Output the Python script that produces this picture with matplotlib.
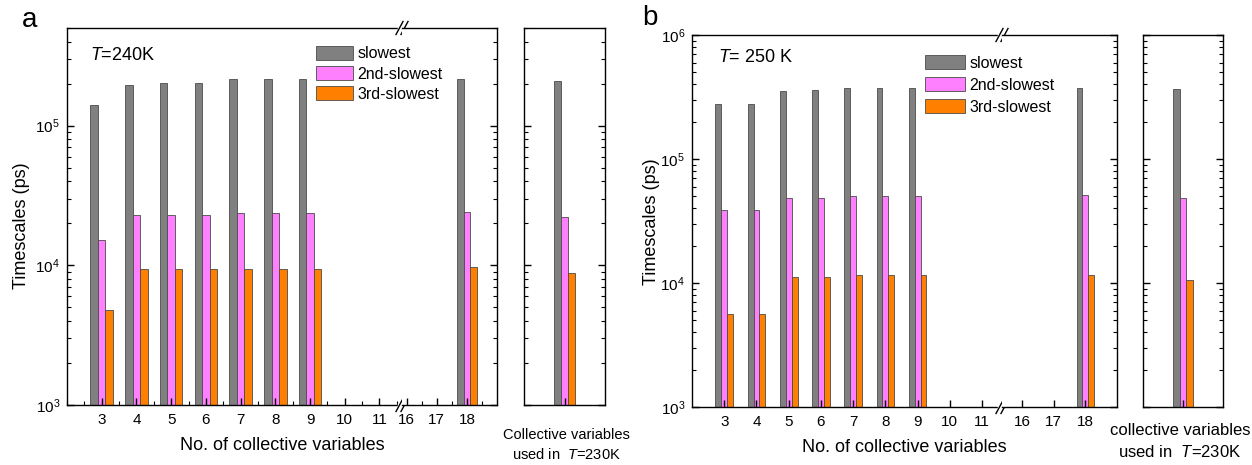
import numpy as np
import matplotlib
matplotlib.use('Agg')
import matplotlib.pyplot as plt
from matplotlib.ticker import MultipleLocator, NullFormatter, FixedLocator

plt.rcParams['font.family'] = ['Liberation Sans', 'DejaVu Sans']
plt.rcParams['mathtext.fontset'] = 'custom'
plt.rcParams['mathtext.rm'] = 'Liberation Sans'
plt.rcParams['mathtext.it'] = 'Liberation Sans:italic'
plt.rcParams['mathtext.bf'] = 'Liberation Sans:bold'
plt.rcParams['axes.linewidth'] = 1.0

# numero de variables colectivas
cv = [3, 4, 5, 6, 7, 8, 9, 18]
ticks_izq = [3, 4, 5, 6, 7, 8, 9, 10, 11]
ticks_der = [16, 17, 18]

# escalas de tiempo (ps) a T = 240 K
slowest_240 = [1.41e5, 1.97e5, 2.02e5, 2.02e5, 2.17e5, 2.17e5, 2.17e5, 2.17e5]
second_240 = [1.51e4, 2.28e4, 2.28e4, 2.28e4, 2.37e4, 2.37e4, 2.37e4, 2.40e4]
third_240 = [4.8e3, 9.4e3, 9.4e3, 9.4e3, 9.4e3, 9.4e3, 9.4e3, 9.8e3]

# escalas de tiempo (ps) a T = 250 K
slowest_250 = [2.76e5, 2.76e5, 3.56e5, 3.60e5, 3.76e5, 3.76e5, 3.76e5, 3.76e5]
second_250 = [3.88e4, 3.88e4, 4.84e4, 4.84e4, 5.06e4, 5.06e4, 5.06e4, 5.10e4]
third_250 = [5.6e3, 5.6e3, 1.12e4, 1.12e4, 1.15e4, 1.15e4, 1.15e4, 1.16e4]

# con las variables colectivas de T = 230 K
ref_240 = [2.08e5, 2.23e4, 8.84e3]
ref_250 = [3.65e5, 4.87e4, 1.06e4]

etiquetas = ['slowest', '2nd-slowest', '3rd-slowest']
colores = ['#808080', '#FF80FF', '#FF8000']
borde = '#4a4a4a'

W, H = 1252, 465
fig = plt.figure(figsize=(W / 100, H / 100), dpi=100)


def caja(x0, x1, y0, y1):
    return [x0 / W, 1 - y1 / H, (x1 - x0) / W, (y1 - y0) / H]


def ejes_y(ax, ylim, izq, der, etiqueta):
    ax.set_yscale('log')
    ax.set_ylim(*ylim)
    ax.yaxis.set_minor_formatter(NullFormatter())
    ax.tick_params(axis='y', which='both', direction='in', left=izq, right=der,
                   labelleft=etiqueta, labelright=False, labelsize=11, pad=5)
    ax.tick_params(axis='y', which='major', length=5, width=1.0)
    ax.tick_params(axis='y', which='minor', length=3, width=0.8)


def corte(ax, w_px, h_px):
    # marca // sobre el eje superior e inferior
    dx = 3.5 / w_px
    dy = 6.5 / h_px
    for yb in (0, 1):
        ax.plot([1 - 3 / w_px, 1 + 3 / w_px], [yb, yb], color='white', lw=2.5,
                transform=ax.transAxes, clip_on=False, zorder=10)
        for off in (-2.5 / w_px, 2.5 / w_px):
            ax.plot([1 + off - dx, 1 + off + dx], [yb - dy, yb + dy], color='black',
                    lw=1.0, transform=ax.transAxes, clip_on=False, zorder=11)


def panel(cajas, xl_izq, xl_der, series, ref, ylim, ancho, minor_x):
    ax1 = fig.add_axes(caja(*cajas[0]))
    ax2 = fig.add_axes(caja(*cajas[1]))
    ax3 = fig.add_axes(caja(*cajas[2]))

    barras = []
    for ax in (ax1, ax2):
        for k, vals in enumerate(series):
            x = np.array(cv) + (k - 1) * ancho
            b = ax.bar(x, vals, ancho, color=colores[k], edgecolor=borde, linewidth=0.6)
            if ax is ax1:
                barras.append(b)
    for k, v in enumerate(ref):
        ax3.bar((k - 1) * 0.165, v, 0.165, color=colores[k], edgecolor=borde, linewidth=0.6)

    ax1.set_xlim(*xl_izq)
    ax2.set_xlim(*xl_der)
    ax3.set_xlim(-1, 1)

    ejes_y(ax1, ylim, True, False, True)
    ejes_y(ax2, ylim, False, True, False)
    ejes_y(ax3, ylim, True, True, False)
    ax1.spines['right'].set_visible(False)
    ax2.spines['left'].set_visible(False)

    ax1.set_xticks(ticks_izq)
    ax2.set_xticks(ticks_der)
    ax3.xaxis.set_major_locator(FixedLocator([0]))
    ax3.set_xticklabels([])
    if minor_x:
        ax1.xaxis.set_minor_locator(MultipleLocator(0.5))
        ax2.xaxis.set_minor_locator(MultipleLocator(0.5))
    for ax in (ax1, ax2, ax3):
        ax.tick_params(axis='x', which='both', direction='in', top=False,
                       labelsize=11, pad=6)
        ax.tick_params(axis='x', which='major', length=5, width=1.0)
        ax.tick_params(axis='x', which='minor', length=3, width=0.8)

    w1 = cajas[0][1] - cajas[0][0]
    h1 = cajas[0][3] - cajas[0][2]
    corte(ax1, w1, h1)
    return ax1, barras


# panel a: T = 240 K
cajas_a = [(67, 402, 28, 405), (402, 497, 28, 405), (524, 605, 28, 405)]
ax_a, barras_a = panel(cajas_a, (2.0, 11.65), (15.85, 18.99),
                       [slowest_240, second_240, third_240], ref_240,
                       (1e3, 5e5), 0.217, True)

# panel b: T = 250 K
cajas_b = [(692, 1002, 35, 407), (1002, 1117, 35, 407), (1143, 1223, 35, 407)]
ax_b, barras_b = panel(cajas_b, (2.0, 11.62), (15.37, 19.0),
                       [slowest_250, second_250, third_250], ref_250,
                       (1e3, 1e6), 0.183, False)

fig.legend(barras_a, etiquetas, loc='upper left', bbox_to_anchor=(316 / W, 1 - 46 / H),
           frameon=False, fontsize=11.5, handlelength=2.3, handleheight=0.95,
           handletextpad=0.3, labelspacing=0.3, borderpad=0, borderaxespad=0)
fig.legend(barras_b, etiquetas, loc='upper left', bbox_to_anchor=(925 / W, 1 - 55 / H),
           frameon=False, fontsize=11.5, handlelength=2.5, handleheight=1.0,
           handletextpad=0.3, labelspacing=0.4, borderpad=0, borderaxespad=0)

# textos
fig.text(30 / W, 1 - 20 / H, 'a', fontsize=20, ha='center', va='center')
fig.text(650 / W, 1 - 18 / H, 'b', fontsize=20, ha='center', va='center')
fig.text(90 / W, 1 - 55 / H, '$T$=240K', fontsize=13, ha='left', va='center')
fig.text(718 / W, 1 - 57 / H, '$T$= 250 K', fontsize=13, ha='left', va='center')

fig.text(22 / W, 1 - 226 / H, 'Timescales (ps)', fontsize=13, rotation=90,
         ha='center', va='center')
fig.text(652 / W, 1 - 222 / H, 'Timescales (ps)', fontsize=13, rotation=90,
         ha='center', va='center')
fig.text(282 / W, 1 - 445 / H, 'No. of collective variables', fontsize=13,
         ha='center', va='center')
fig.text(904 / W, 1 - 447 / H, 'No. of collective variables', fontsize=13,
         ha='center', va='center')

fig.text(566 / W, 1 - 435 / H, 'Collective variables', fontsize=10.5,
         ha='center', va='center')
fig.text(566 / W, 1 - 454 / H, 'used in  $T$=230K', fontsize=10.5,
         ha='center', va='center')
fig.text(1180 / W, 1 - 430 / H, 'collective variables', fontsize=12,
         ha='center', va='center')
fig.text(1180 / W, 1 - 452 / H, 'used in  $T$=230K', fontsize=12,
         ha='center', va='center')

fig.savefig('out.png', dpi=100)
